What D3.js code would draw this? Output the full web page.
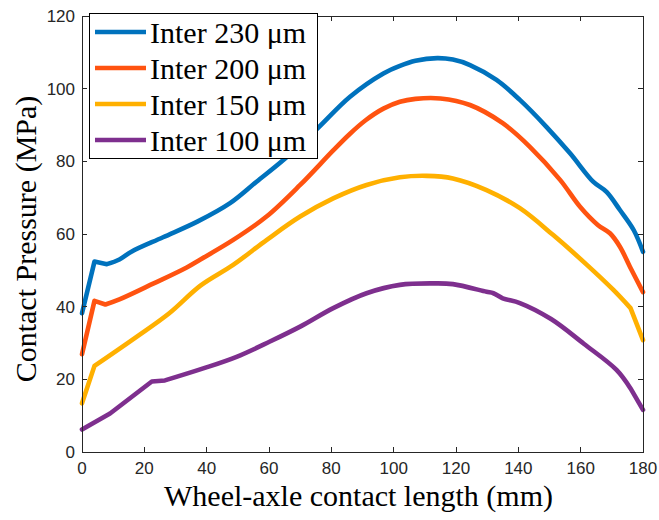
<!DOCTYPE html>
<html>
<head>
<meta charset="utf-8">
<script src="https://cdn.jsdelivr.net/npm/d3@7"></script>
<style>
  body{margin:0;background:#fff;}
  svg{display:block;}
  .tick-label{font-family:"Liberation Sans",Arial,sans-serif;font-size:17px;fill:#262626;}
  .axis-title{font-family:"Liberation Serif","Times New Roman",serif;font-size:30px;fill:#000;}
  .leg-text{font-family:"Liberation Serif","Times New Roman",serif;font-size:30px;fill:#000;}
</style>
</head>
<body>
<div id="chart"></div>
<script>
// data: [mm, MPa]
const inter230=[[0,38.2],[4,52.4],[8,51.7],[12,53],[16,55.2],[26,59.1],[37,63.4],[47.5,68.5],[56,74.4],
  [64.5,80.3],[75,88.6],[86,97.8],[96.7,104.2],[102,106.3],[107,107.7],[114,108.4],[119,108],[124.5,106.5],
  [133,102.4],[140.5,96.9],[149,89.5],[156.6,82.2],[164,74.4],[168.3,71.6],[172.6,66.6],[177,61.1],[180,55.1]];
const inter200=[[0,26.9],[4,41.6],[7.5,40.6],[12,42],[23,46.4],[33.6,50.8],[38,53],[48.4,58.3],[59.2,64.8],
  [70,73.5],[80.6,83],[86,87.6],[91,91.3],[96.7,94.5],[102,96.4],[107,97.2],[115,97.3],[124.5,95.5],[135,90.5],
  [143.7,84],[153.4,74.9],[159.8,67.5],[165.5,62.5],[169.4,60.2],[172.6,56.5],[175.8,51],[180,44]];
const inter150=[[0,13.4],[4,23.7],[17.5,31.7],[28,38.2],[38,45.8],[48.5,51.5],[59.3,58.4],[70,64.8],
  [80.6,69.8],[91.3,73.5],[102,75.6],[110.6,76],[119,75.3],[129.8,72.1],[140.5,67.1],[151.2,59.7],
  [162,51.5],[170.5,44.6],[176,39.6],[180,30.8]];
const inter100=[[0,6.2],[9,10.6],[22.4,19.4],[26.6,19.7],[38.9,23],[49.6,26.2],[60.3,30.4],[70,34.5],
  [80.6,39.6],[91.3,43.7],[102,46],[112.7,46.4],[119,46.2],[129.8,44.1],[132,43.7],[135,42.3],
  [140.5,41],[150.5,36.6],[161,29.8],[171.5,22.6],[176,17.5],[180,11.6]];

const names=['Inter 230 \u03bcm','Inter 200 \u03bcm','Inter 150 \u03bcm','Inter 100 \u03bcm'];
const colors=['#0072BD','#FF5310','#FFB000','#7E2F8E'];
const xTicks=[0,20,40,60,80,100,120,140,160,180];
const yTicks=[0,20,40,60,80,100,120];

const series=[inter230,inter200,inter150,inter100];
// where the sharp (straight) start ends and the sharp end begins, as point indices
const headEnd=[2,2,1,3];
const tailFrom=[26,26,18,20];

const Wd=659,Ht=520;
const L=82,R=643,T=16,B=452;

const svg=d3.select('#chart').append('svg').attr('width',Wd).attr('height',Ht);

const x=d3.scaleLinear().domain([0,180]).range([L,R]);
const y=d3.scaleLinear().domain([0,120]).range([B,T]);

const axisCol='#262626',tk=5;

// lines: straight pieces at the kinked ends, smooth in between
const lin=d3.line().x(d=>x(d[0])).y(d=>y(d[1]));
const smooth=d3.line().x(d=>x(d[0])).y(d=>y(d[1])).curve(d3.curveCatmullRom.alpha(0.5));
const lg0=svg.append('g').attr('fill','none').attr('stroke-width',4.6)
  .attr('stroke-linejoin','round').attr('stroke-linecap','round');
series.forEach((s,i)=>{
  const h=headEnd[i],t=tailFrom[i];
  const d=lin(s.slice(0,h+1))+smooth(s.slice(h,t+1)).replace(/^M[^C]*/,'')+
    lin(s.slice(t)).replace(/^M[^L]*/,'');
  lg0.append('path').attr('d',d).attr('stroke',colors[i]);
});

// box and ticks (matlab style, inward)
const ax=svg.append('g').attr('stroke',axisCol).attr('stroke-width',1).attr('shape-rendering','crispEdges');
ax.append('rect').attr('x',L).attr('y',T).attr('width',R-L).attr('height',B-T).attr('fill','none');
xTicks.forEach(v=>{
  ax.append('line').attr('x1',x(v)).attr('x2',x(v)).attr('y1',B).attr('y2',B-tk);
  ax.append('line').attr('x1',x(v)).attr('x2',x(v)).attr('y1',T).attr('y2',T+tk);
});
yTicks.forEach(v=>{
  ax.append('line').attr('x1',L).attr('x2',L+tk).attr('y1',y(v)).attr('y2',y(v));
  ax.append('line').attr('x1',R).attr('x2',R-tk).attr('y1',y(v)).attr('y2',y(v));
});

svg.append('g').selectAll('text').data(xTicks).enter().append('text')
  .attr('class','tick-label').attr('x',d=>x(d)).attr('y',B+22)
  .attr('text-anchor','middle').text(d=>d);
svg.append('g').selectAll('text').data(yTicks).enter().append('text')
  .attr('class','tick-label').attr('x',L-7).attr('y',d=>y(d)+6)
  .attr('text-anchor','end').text(d=>d);

svg.append('text').attr('class','axis-title')
  .attr('x',(L+R)/2-4).attr('y',506).attr('text-anchor','middle')
  .text('Wheel-axle contact length (mm)');
svg.append('text').attr('class','axis-title')
  .attr('transform','translate(36,239) rotate(-90)').attr('text-anchor','middle')
  .text('Contact Pressure (MPa)');

// legend
const lg=svg.append('g');
lg.append('rect').attr('x',89.5).attr('y',13.5).attr('width',228).attr('height',145)
  .attr('fill','#fff').attr('stroke','#000').attr('stroke-width',1);
names.forEach((n,i)=>{
  const cy=32+i*36;
  lg.append('line').attr('x1',95).attr('x2',146).attr('y1',cy).attr('y2',cy)
    .attr('stroke',colors[i]).attr('stroke-width',4.6);
  lg.append('text').attr('class','leg-text').attr('x',150).attr('y',cy+11).text(n);
});
</script>
</body>
</html>
